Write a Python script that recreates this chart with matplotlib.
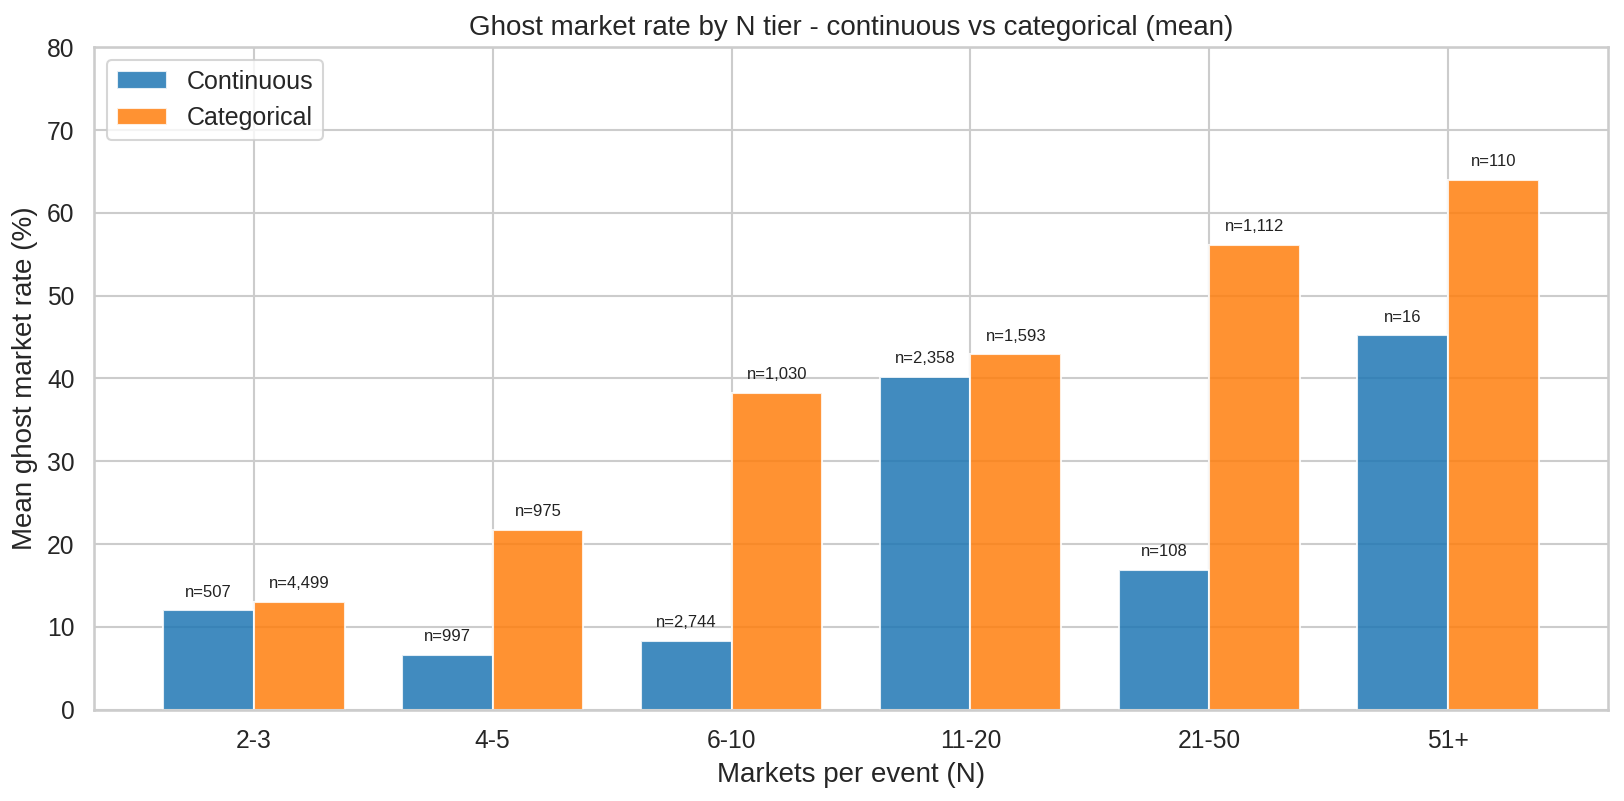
import matplotlib
matplotlib.use('Agg')
import matplotlib.pyplot as plt
import seaborn as sns
import numpy as np

sns.set_theme(style='whitegrid')
plt.rcParams['font.family'] = ['Liberation Sans', 'DejaVu Sans']

tiers = ['2-3', '4-5', '6-10', '11-20', '21-50', '51+']
cont_rate = [12.0, 6.6, 8.3, 40.2, 16.9, 45.2]
cat_rate = [13.0, 21.7, 38.3, 42.9, 56.1, 64.0]
cont_n = [507, 997, 2744, 2358, 108, 16]
cat_n = [4499, 975, 1030, 1593, 1112, 110]

fig, ax = plt.subplots(figsize=(1624 / 150, 801 / 150), dpi=150)
fig.subplots_adjust(left=0.058, right=0.990, top=0.941, bottom=0.114)

x = np.arange(len(tiers))
w = 0.38
b1 = ax.bar(x - w / 2, cont_rate, w, label='Continuous', color='tab:blue',
            alpha=0.85, edgecolor='white')
b2 = ax.bar(x + w / 2, cat_rate, w, label='Categorical', color='tab:orange',
            alpha=0.85, edgecolor='white')

for bars, ns in [(b1, cont_n), (b2, cat_n)]:
    for bar, n in zip(bars, ns):
        ax.text(bar.get_x() + bar.get_width() / 2, bar.get_height() + 1.3,
                f'n={n:,}', ha='center', va='bottom', fontsize=8, color='#222')

ax.set_xticks(x)
ax.set_xticklabels(tiers, fontsize=11.8)
ax.tick_params(axis='y', labelsize=11.8)
ax.set_ylim(0, 80)
ax.set_xlabel('Markets per event (N)', fontsize=13.3)
ax.set_ylabel('Mean ghost market rate (%)', fontsize=13.3)
ax.set_title('Ghost market rate by N tier - continuous vs categorical (mean)', fontsize=13.3)
ax.legend(loc='upper left', fontsize=12)

fig.savefig('out.png', dpi=150)
